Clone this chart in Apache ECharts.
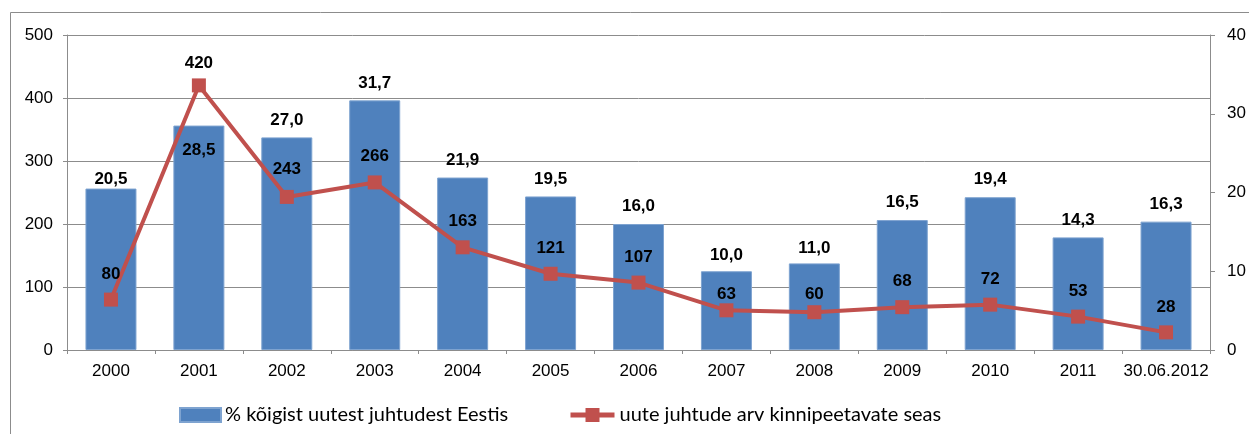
<!DOCTYPE html>
<html>
<head>
<meta charset="utf-8">
<script src="https://cdn.jsdelivr.net/npm/echarts@6/dist/echarts.min.js"></script>
<style>
html,body{margin:0;padding:0;background:#fff;}
#chart{width:1249px;height:434px;}
</style>
</head>
<body>
<div id="chart"></div>
<script>
const categories = ['2000','2001','2002','2003','2004','2005','2006','2007','2008','2009','2010','2011','30.06.2012'];
const percentValues = [20.5, 28.5, 27.0, 31.7, 21.9, 19.5, 16.0, 10.0, 11.0, 16.5, 19.4, 14.3, 16.3];
const caseCounts = [80, 420, 243, 266, 163, 121, 107, 63, 60, 68, 72, 53, 28];
const leftTicks = [0, 100, 200, 300, 400, 500];
const rightTicks = [0, 10, 20, 30, 40];
const barName = '% kõigist uutest juhtudest Eestis';
const lineName = 'uute juhtude arv kinnipeetavate seas';

const BLUE = '#4F81BD';
const RED = '#C0504D';
const GRAY = '#8c8c8c';
const FONT = '"Liberation Sans", Arial, sans-serif';

// label placement tweaks (styling, not data)
const barLabelDist = {0: 1, 7: 7, 8: 7};
const barInside = {1: 16};
const lineLabelDist = {1: 7, 2: 12, 3: 11, 7: 0, 8: 2};

const barData = percentValues.map((v, i) => {
  const item = {value: v};
  if (barInside[i] !== undefined) {
    item.label = {position: 'insideTop', distance: barInside[i]};
  } else if (barLabelDist[i] !== undefined) {
    item.label = {distance: barLabelDist[i]};
  }
  return item;
});
const lineData = caseCounts.map((v, i) => {
  const item = {value: v};
  if (lineLabelDist[i] !== undefined) item.label = {distance: lineLabelDist[i]};
  return item;
});

const chart = echarts.init(document.getElementById('chart'), null, {renderer: 'canvas'});
chart.setOption({
  animation: false,
  backgroundColor: '#fff',
  textStyle: {fontFamily: FONT},
  graphic: [{
    type: 'rect', z: -10, silent: true,
    shape: {x: 10.5, y: 12.5, width: 1400, height: 600},
    style: {fill: null, stroke: GRAY, lineWidth: 1}
  }],
  grid: {left: 67, right: 39, top: 35, bottom: 84, containLabel: false},
  legend: [{
    data: [barName], left: 174, top: 400, itemWidth: 41, itemHeight: 14, itemGap: 0,
    icon: 'rect',
    textStyle: {fontFamily: 'Lato, sans-serif', fontSize: 20, color: '#000', padding: [0,0,0,-1]}
  }, {
    data: [lineName], left: 563, top: 400, itemWidth: 44, itemHeight: 17.5, itemGap: 0,
    lineStyle: {width: 5},
    textStyle: {fontFamily: 'Lato, sans-serif', fontSize: 20, color: '#000'}
  }],
  xAxis: {
    type: 'category', data: categories, boundaryGap: true,
    axisLine: {lineStyle: {color: GRAY, width: 1}},
    axisTick: {show: true, alignWithLabel: false, length: 4, lineStyle: {color: GRAY}},
    axisLabel: {color: '#000', fontSize: 17, fontFamily: FONT, margin: 13, interval: 0}
  },
  yAxis: [{
    type: 'value', min: leftTicks[0], max: leftTicks[leftTicks.length-1], interval: 100,
    axisLine: {show: true, lineStyle: {color: GRAY}},
    axisTick: {show: true, length: 4, lineStyle: {color: GRAY}},
    axisLabel: {color: '#000', fontSize: 17, fontFamily: FONT, margin: 14},
    splitLine: {show: true, lineStyle: {color: GRAY, width: 1}}
  }, {
    type: 'value', min: rightTicks[0], max: rightTicks[rightTicks.length-1], interval: 10,
    position: 'right',
    axisLine: {show: true, lineStyle: {color: GRAY}},
    axisTick: {show: true, length: 5, lineStyle: {color: GRAY}},
    axisLabel: {color: '#000', fontSize: 17, fontFamily: FONT, margin: 17},
    splitLine: {show: false}
  }],
  series: [{
    name: barName, type: 'bar', yAxisIndex: 1, data: barData, barWidth: 51,
    itemStyle: {color: BLUE, borderColor: '#7ea3d0', borderWidth: 1},
    label: {
      show: true, position: 'top', distance: 9, color: '#000', fontWeight: 'bold',
      fontSize: 17, fontFamily: FONT,
      formatter: p => p.value.toFixed(1).replace('.', ',')
    },
    z: 2
  }, {
    name: lineName, type: 'line', yAxisIndex: 0, data: lineData,
    symbol: 'rect', symbolSize: 14,
    lineStyle: {color: RED, width: 4},
    itemStyle: {color: RED},
    label: {
      show: true, position: 'top', distance: 10, color: '#000', fontWeight: 'bold',
      fontSize: 17, fontFamily: FONT
    },
    z: 3
  }]
});
</script>
</body>
</html>
